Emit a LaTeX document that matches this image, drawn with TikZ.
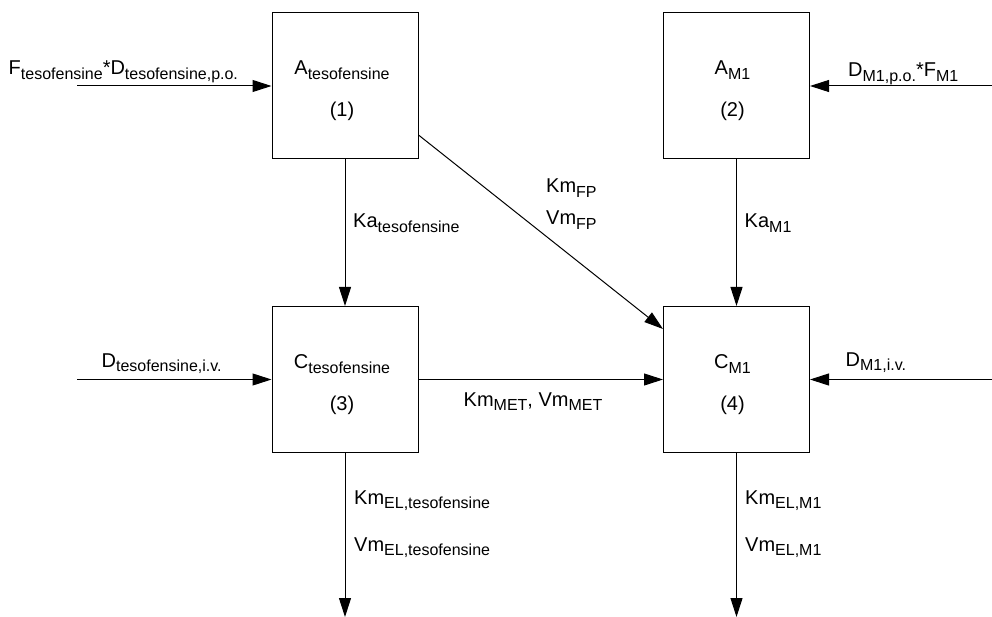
\documentclass[tikz,border=0pt]{standalone}
\usepackage{fontspec}
\setmainfont{Liberation Sans}
\usetikzlibrary{arrows.meta}
\newcommand{\sbs}[1]{\raisebox{-4.5pt}{\fontsize{16}{16}\selectfont #1}}
\begin{document}
\begin{tikzpicture}[x=1pt,y=-1pt,
    comp/.style={draw,line width=1pt,minimum size=146pt,inner sep=0pt},
    txt/.style={inner sep=0pt,font=\fontsize{20}{24}\selectfont},
    flow/.style={line width=1pt,-{Triangle[length=19pt,width=12pt]}}]
  \useasboundingbox (0,0) rectangle (992,617);
  % ------ compartments ------
  \node [comp] (A1) at (345,86) {};
  \node [comp] (A2) at (736.5,86) {};
  \node [comp] (C1) at (345,379.5) {};
  \node [comp] (C2) at (736.5,379.5) {};
  \node [txt,anchor=base] (A1t) at ([xshift=-3pt,yshift=11pt]A1.center) {A\sbs{tesofensine}};
  \node [txt,anchor=base] (A1n) at ([xshift=-3pt,yshift=-31pt]A1.center) {(1)};
  \node [txt,anchor=base] (A2t) at ([xshift=-4pt,yshift=11pt]A2.center) {A\sbs{M1}};
  \node [txt,anchor=base] (A2n) at ([xshift=-4pt,yshift=-31pt]A2.center) {(2)};
  \node [txt,anchor=base] (C1t) at ([xshift=-3pt,yshift=11pt]C1.center) {C\sbs{tesofensine}};
  \node [txt,anchor=base] (C1n) at ([xshift=-3pt,yshift=-31pt]C1.center) {(3)};
  \node [txt,anchor=base] (C2t) at ([xshift=-4pt,yshift=11pt]C2.center) {C\sbs{M1}};
  \node [txt,anchor=base] (C2n) at ([xshift=-4pt,yshift=-31pt]C2.center) {(4)};
  % ------ doses ------
  \coordinate (inA1) at (77,86);
  \coordinate (inA2) at (992,86);
  \coordinate (inC1) at (77,379.5);
  \coordinate (inC2) at (992,379.5);
  \draw [flow] (inA1) -- (A1);
  \draw [flow] (inA2) -- (A2);
  \draw [flow] (inC1) -- (C1);
  \draw [flow] (inC2) -- (C2);
  \node [txt,anchor=base west] (dA1) at (8.5,75) {F\sbs{tesofensine}*D\sbs{tesofensine,p.o.}};
  \node [txt,anchor=base west] (dA2) at (848,77) {D\sbs{M1,p.o.}*F\sbs{M1}};
  \node [txt,anchor=base west] (dC1) at (101.5,367) {D\sbs{tesofensine,i.v.}};
  \node [txt,anchor=base west] (dC2) at (845.5,366) {D\sbs{M1,i.v.}};
  % ------ transfers ------
  \draw [flow] (A1) -- (C1);
  \draw [flow] (A2) -- (C2);
  \draw [flow] ([yshift=-49pt]A1.east) -- ([yshift=50.5pt]C2.west);
  \draw [flow] (C1) -- (C2);
  \node [txt,anchor=base west] (ka1) at (353,228) {Ka\sbs{tesofensine}};
  \node [txt,anchor=base west] (ka2) at (744.5,228) {Ka\sbs{M1}};
  \node [txt,anchor=base west] (kmfp) at (546,193) {Km\sbs{FP}};
  \node [txt,anchor=base west] (vmfp) at (546,225) {Vm\sbs{FP}};
  \node [txt,anchor=base] (met) at (533,406) {Km\sbs{MET}, Vm\sbs{MET}};
  % ------ elimination ------
  \coordinate (outC1) at (345,617);
  \coordinate (outC2) at (736.5,617);
  \draw [flow] (C1) -- (outC1);
  \draw [flow] (C2) -- (outC2);
  \node [txt,anchor=base west] (kel1) at (354,504) {Km\sbs{EL,tesofensine}};
  \node [txt,anchor=base west] (vel1) at (354,551) {Vm\sbs{EL,tesofensine}};
  \node [txt,anchor=base west] (kel2) at (745,504) {Km\sbs{EL,M1}};
  \node [txt,anchor=base west] (vel2) at (745,551) {Vm\sbs{EL,M1}};
\end{tikzpicture}
\end{document}
